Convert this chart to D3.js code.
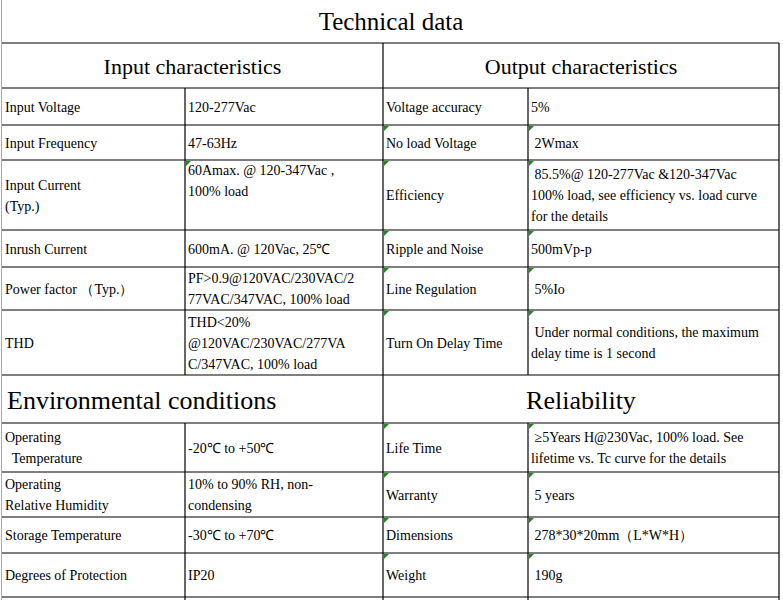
<!DOCTYPE html>
<html><head><meta charset="utf-8">
<script src="https://cdn.jsdelivr.net/npm/d3@7"></script>
<style>body{margin:0;background:#fff}</style>
</head><body>
<div id="chart"></div>
<script>
var title = "Technical data";
var sectionHeads = [
  ["Input characteristics", "Output characteristics"],
  ["Environmental conditions", "Reliability"]
];
var inputLabels = [["Input Voltage"], ["Input Frequency"], ["Input Current", "(Typ.)"], ["Inrush Current"], ["Power factor （Typ.）"], ["THD"]];
var inputValues = [["120-277Vac"], ["47-63Hz"], ["60Amax. @ 120-347Vac ,", "100% load"], ["600mA. @ 120Vac, 25℃"], ["PF>0.9@120VAC/230VAC/2", "77VAC/347VAC, 100% load"], ["THD<20%", "@120VAC/230VAC/277VA", "C/347VAC, 100% load"]];
var outputLabels = [["Voltage accuracy"], ["No load Voltage"], ["Efficiency"], ["Ripple and Noise"], ["Line Regulation"], ["Turn On Delay Time"]];
var outputValues = [["5%"], [" 2Wmax"], [" 85.5%@ 120-277Vac &120-347Vac", "100% load, see efficiency vs. load curve", "for the details"], ["500mVp-p"], [" 5%Io"], [" Under normal conditions, the maximum", "delay time is 1 second"]];
var envLabels = [["Operating", "  Temperature"], ["Operating", "Relative Humidity"], ["Storage Temperature"], ["Degrees of Protection"]];
var envValues = [["-20℃ to +50℃"], ["10% to 90% RH, non-", "condensing"], ["-30℃ to +70℃"], ["IP20"]];
var relLabels = [["Life Time"], ["Warranty"], ["Dimensions"], ["Weight"]];
var relValues = [[" ≥5Years H@230Vac, 100% load. See", "lifetime vs. Tc curve for the details"], [" 5 years"], [" 278*30*20mm（L*W*H）"], [" 190g"]];

var colX = [2, 185, 383, 528, 779];
var rowY = [43, 88, 125, 160, 230, 267, 310, 375, 423, 472, 517, 553, 597];

var svg = d3.select("#chart").append("svg").attr("width", 783).attr("height", 600)
  .style("font-family", "'Liberation Serif', 'Times New Roman', serif");

svg.append("line").attr("x1", 1.5).attr("x2", 1.5).attr("y1", 0).attr("y2", 600).attr("stroke", "#aaa");

svg.append("text").attr("x", 391).attr("y", 30).attr("text-anchor", "middle")
  .style("font-size", "25px").text(title);

function cell(g, x0, x1, y0, y1, lines, opt) {
  opt = opt || {};
  var lh = 21, n = lines.length;
  var startY = opt.top ? y0 + 15 : (y0 + y1) / 2 - (n - 1) * lh / 2 + 5;
  var t = g.append("text").style("font-size", "14px").attr("xml:space", "preserve");
  lines.forEach(function (l, i) {
    t.append("tspan").attr("x", x0 + 3).attr("y", startY + i * lh).text(l);
  });
  if (opt.mark) {
    g.append("path").attr("d", "M" + (x0 + 1) + "," + (y0 + 1) + "h5l-5,5z").attr("fill", "#1a8a1a");
  }
}

var g = svg.append("g");
// Section 1 header
svg.append("text").attr("x", (colX[0] + colX[2]) / 2).attr("y", 74).attr("text-anchor", "middle").style("font-size", "22px").text(sectionHeads[0][0]);
svg.append("text").attr("x", (colX[2] + colX[4]) / 2).attr("y", 74).attr("text-anchor", "middle").style("font-size", "22px").text(sectionHeads[0][1]);
svg.append("text").attr("x", 7).attr("y", 409).style("font-size", "26px").text(sectionHeads[1][0]);
svg.append("text").attr("x", (colX[2] + colX[4]) / 2).attr("y", 409).attr("text-anchor", "middle").style("font-size", "26px").text(sectionHeads[1][1]);

inputLabels.forEach(function (l, i) {
  var y0 = rowY[i + 1], y1 = rowY[i + 2];
  cell(g, colX[0], colX[1], y0, y1, l);
  cell(g, colX[1], colX[2], y0, y1, inputValues[i], { top: i === 2, mark: i === 2 });
  cell(g, colX[2], colX[3], y0, y1, outputLabels[i], { mark: i > 0 });
  cell(g, colX[3], colX[4], y0, y1, outputValues[i], { mark: i > 0 });
});
envLabels.forEach(function (l, i) {
  var y0 = rowY[i + 8], y1 = rowY[i + 9];
  cell(g, colX[0], colX[1], y0, y1, l);
  cell(g, colX[1], colX[2], y0, y1, envValues[i]);
  cell(g, colX[2], colX[3], y0, y1, relLabels[i], { mark: true });
  cell(g, colX[3], colX[4], y0, y1, relValues[i], { mark: true });
});

// grid lines
var grid = svg.append("g").attr("stroke", "#000").attr("stroke-width", 1.2);
rowY.forEach(function (y) {
  grid.append("line").attr("x1", colX[0]).attr("x2", colX[4]).attr("y1", y).attr("y2", y);
});
// vertical lines
grid.append("line").attr("x1", colX[4]).attr("x2", colX[4]).attr("y1", rowY[0]).attr("y2", 600);
grid.append("line").attr("x1", colX[2]).attr("x2", colX[2]).attr("y1", rowY[0]).attr("y2", 600);
[colX[1], colX[3]].forEach(function (x) {
  grid.append("line").attr("x1", x).attr("x2", x).attr("y1", rowY[1]).attr("y2", rowY[7]);
  grid.append("line").attr("x1", x).attr("x2", x).attr("y1", rowY[8]).attr("y2", 600);
});
</script>
</body></html>
